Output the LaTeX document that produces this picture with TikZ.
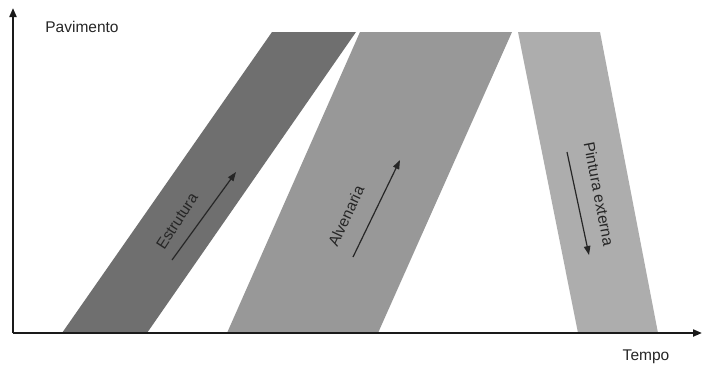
\documentclass[tikz,border=0pt]{standalone}
\usepackage{fontspec}
\setmainfont{Liberation Sans}
\usetikzlibrary{arrows.meta}
\definecolor{cEstr}{HTML}{6F6F6F}
\definecolor{cAlv}{HTML}{989898}
\definecolor{cPint}{HTML}{ADADAD}
\definecolor{cAxis}{HTML}{1A1A1A}
\begin{document}
\begin{tikzpicture}[x=1pt,y=-1pt,
  axisline/.style={draw=cAxis,line width=2pt,-{Triangle[length=9pt,width=7pt]}},
  bandarrow/.style={draw=black!85,line width=1.2pt,-{Triangle[length=9pt,width=6.5pt]}},
  lbl/.style={font=\fontsize{15.5}{17}\selectfont,text=black!85,inner sep=0pt}]
\useasboundingbox[fill=white] (0,0) rectangle (703,370);
% bands
\fill[cEstr] (62,333) -- (147,333) -- (356,32) -- (272,32) -- cycle;
\fill[cAlv] (227,333) -- (378,333) -- (512,32) -- (360,32) -- cycle;
\fill[cPint] (578,333) -- (658,333) -- (600,32) -- (518,32) -- cycle;
% axes
\coordinate (o) at (13,333);
\coordinate (ytop) at (13,8);
\coordinate (xend) at (702,333);
\draw[axisline] (o) -- (ytop);
\draw[axisline] (o) -- (xend);
\node[lbl] (pav) at (82,27) {Pavimento};
\node[lbl] (tempo) at (646,357) {Tempo};
% band labels and arrows
\node[lbl,rotate=57] (estr) at (177,221) {Estrutura};
\coordinate (e1) at (172,260);
\coordinate (e2) at (236,172);
\draw[bandarrow] (e1) -- (e2);
\node[lbl,rotate=65] (alv) at (346,216) {Alvenaria};
\coordinate (a1) at (353,257);
\coordinate (a2) at (400,160);
\draw[bandarrow] (a1) -- (a2);
\node[lbl,rotate=-79] (pint) at (599,194) {Pintura externa};
\coordinate (p1) at (567,152);
\coordinate (p2) at (589,255);
\draw[bandarrow] (p1) -- (p2);
\end{tikzpicture}
\end{document}
